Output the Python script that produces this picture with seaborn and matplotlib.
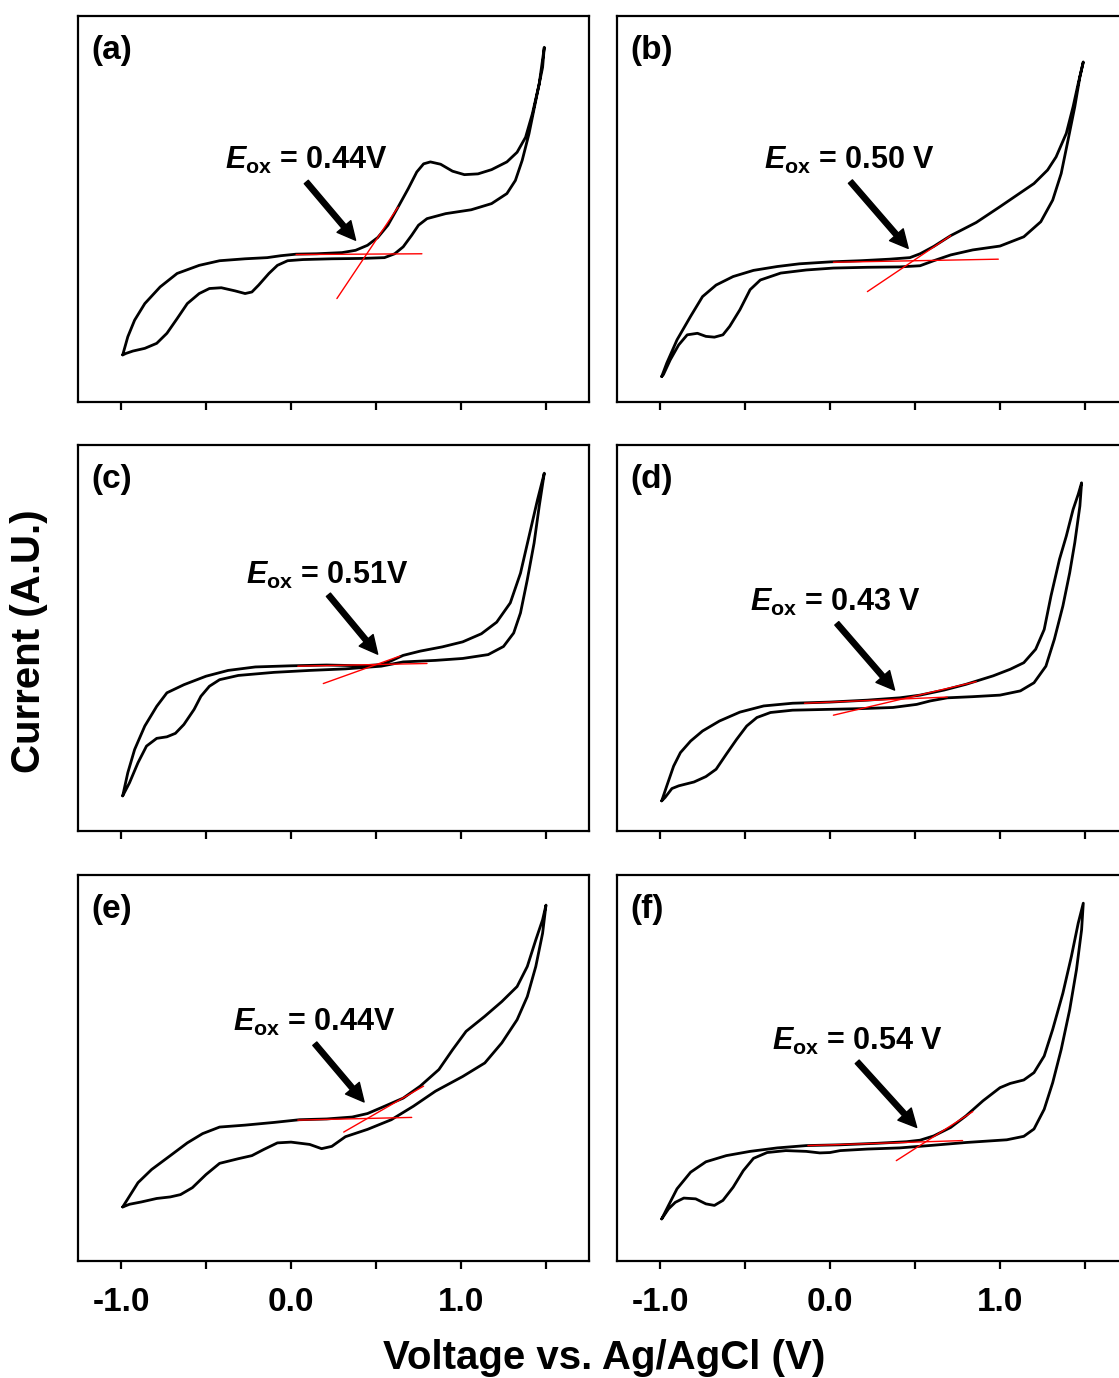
import matplotlib
matplotlib.use("Agg")
import matplotlib.pyplot as plt
from matplotlib.ticker import FixedLocator, FormatStrFormatter
import pandas as pd
import seaborn as sns

# ---------------------------------------------------------------------------
# Cyclic voltammograms (current in arbitrary units, 0-100 full scale)
# Each loop: upper branch from -1.0 V to the vertex, then lower branch back.
# ---------------------------------------------------------------------------
A_VOLT = [-0.99, -0.96, -0.92, -0.86, -0.77, -0.67, -0.54, -0.42, -0.27, -0.14,
          -0.06, 0.03, 0.15, 0.30, 0.38, 0.45, 0.51, 0.57, 0.63, 0.69,
          0.74, 0.78, 0.82, 0.88, 0.95, 1.02, 1.10, 1.18, 1.27, 1.33,
          1.38, 1.42, 1.46, 1.49,
          1.48, 1.44, 1.40, 1.36, 1.32, 1.27, 1.18, 1.06, 0.91, 0.80,
          0.75, 0.71, 0.66, 0.61, 0.55, 0.42, 0.24, 0.07, -0.02, -0.08,
          -0.13, -0.19, -0.23, -0.27, -0.33, -0.41, -0.48, -0.54, -0.61, -0.67,
          -0.73, -0.79, -0.86, -0.93, -0.97, -0.99]
A_CURR = [12.2, 16.9, 21.2, 25.5, 29.8, 33.3, 35.4, 36.6, 37.1, 37.4,
          37.9, 38.3, 38.4, 38.7, 39.3, 40.6, 42.6, 45.8, 50.5, 55.3,
          59.6, 61.7, 62.2, 61.6, 59.8, 58.9, 59.1, 60.2, 62.2, 64.7,
          68.6, 74.7, 82.4, 91.9,
          86.7, 78.1, 69.5, 62.6, 57.4, 54.0, 51.4, 49.8, 48.8, 47.5,
          45.8, 43.2, 40.2, 38.4, 37.4, 37.2, 37.1, 36.9, 36.6, 35.4,
          33.3, 30.3, 28.5, 28.1, 28.8, 29.6, 29.4, 28.1, 25.5, 21.6,
          17.8, 15.2, 13.9, 13.2, 12.6, 12.2]

B_VOLT = [-0.99, -0.96, -0.90, -0.82, -0.75, -0.67, -0.57, -0.45, -0.31, -0.18,
          0.00, 0.18, 0.35, 0.47, 0.53, 0.61, 0.71, 0.86, 1.00, 1.10,
          1.20, 1.28, 1.33, 1.39, 1.43, 1.46, 1.49,
          1.47, 1.44, 1.40, 1.36, 1.31, 1.24, 1.14, 1.00, 0.84, 0.71,
          0.61, 0.53, 0.41, 0.22, 0.02, -0.14, -0.29, -0.41, -0.47, -0.53,
          -0.59, -0.63, -0.68, -0.73, -0.78, -0.84, -0.89, -0.94, -0.98, -0.99]
B_CURR = [6.6, 10.1, 16.1, 22.2, 27.3, 30.3, 32.5, 34.1, 35.1, 35.8,
          36.3, 36.6, 37.0, 37.4, 38.4, 40.3, 43.1, 46.5, 50.6, 53.6,
          56.6, 60.1, 63.5, 69.6, 76.5, 82.5, 88.1,
          84.2, 76.5, 67.8, 59.2, 52.3, 46.7, 42.8, 40.4, 39.4, 38.1,
          36.6, 35.3, 35.0, 34.9, 34.7, 34.2, 33.4, 31.6, 29.1, 23.9,
          19.6, 17.4, 16.8, 17.0, 17.8, 17.4, 14.8, 10.9, 7.1, 6.6]

C_VOLT = [-0.99, -0.96, -0.92, -0.86, -0.79, -0.73, -0.63, -0.50, -0.37, -0.21,
          0.00, 0.21, 0.42, 0.53, 0.59, 0.66, 0.76, 0.89, 1.01, 1.12,
          1.21, 1.29, 1.35, 1.40, 1.45, 1.49,
          1.46, 1.43, 1.39, 1.35, 1.31, 1.25, 1.16, 1.01, 0.85, 0.66,
          0.53, 0.32, 0.11, -0.10, -0.31, -0.42, -0.48, -0.53, -0.57, -0.63,
          -0.68, -0.73, -0.79, -0.85, -0.90, -0.95, -0.99]
C_CURR = [9.1, 15.1, 21.1, 27.2, 32.3, 35.8, 37.9, 40.1, 41.6, 42.5,
          42.8, 43.0, 42.8, 43.1, 44.1, 45.5, 46.6, 47.7, 49.0, 51.1,
          54.1, 59.1, 66.8, 76.3, 85.8, 92.7,
          84.1, 74.6, 65.1, 56.5, 51.3, 47.8, 45.7, 44.7, 44.2, 43.8,
          42.7, 42.0, 41.6, 41.1, 40.3, 39.2, 37.5, 34.9, 31.5, 27.6,
          25.3, 24.4, 24.0, 22.0, 17.7, 12.5, 9.1]

D_VOLT = [-0.99, -0.96, -0.92, -0.88, -0.82, -0.75, -0.65, -0.53, -0.39, -0.22,
          0.00, 0.22, 0.41, 0.53, 0.67, 0.80, 0.96, 1.06, 1.14, 1.21,
          1.26, 1.30, 1.35, 1.39, 1.43, 1.46, 1.48,
          1.47, 1.44, 1.41, 1.37, 1.32, 1.27, 1.20, 1.12, 1.00, 0.84,
          0.69, 0.59, 0.51, 0.37, 0.18, -0.02, -0.22, -0.35, -0.43, -0.49,
          -0.55, -0.61, -0.67, -0.73, -0.80, -0.89, -0.93, -0.97, -0.99]
D_CURR = [7.8, 11.7, 16.8, 20.3, 23.3, 25.9, 28.5, 30.8, 32.4, 33.1,
          33.4, 33.9, 34.5, 35.2, 36.5, 38.0, 40.2, 41.9, 43.6, 47.1,
          52.2, 60.9, 70.4, 76.4, 83.3, 87.2, 90.2,
          84.2, 74.7, 66.9, 58.3, 49.7, 42.7, 38.4, 36.3, 35.2, 34.8,
          34.5, 33.7, 32.8, 32.0, 31.7, 31.5, 31.3, 30.7, 29.4, 27.2,
          23.7, 19.9, 16.0, 14.1, 12.7, 11.7, 11.0, 8.7, 7.8]

E_VOLT = [-0.99, -0.95, -0.90, -0.82, -0.71, -0.61, -0.52, -0.42, -0.27, -0.10,
          0.05, 0.21, 0.36, 0.45, 0.53, 0.66, 0.76, 0.87, 0.95, 1.03,
          1.14, 1.24, 1.33, 1.39, 1.44, 1.48, 1.50,
          1.48, 1.44, 1.39, 1.33, 1.24, 1.14, 1.01, 0.85, 0.72, 0.59,
          0.45, 0.32, 0.24, 0.18, 0.11, 0.00, -0.08, -0.16, -0.23, -0.31,
          -0.42, -0.50, -0.58, -0.65, -0.71, -0.79, -0.88, -0.95, -0.99]
E_CURR = [14.0, 16.8, 20.3, 23.7, 27.3, 30.6, 33.0, 34.7, 35.2, 35.9,
          36.6, 36.8, 37.3, 38.2, 39.7, 42.2, 45.3, 49.6, 54.7, 59.5,
          63.4, 67.2, 71.1, 76.3, 83.2, 88.4, 92.2,
          84.9, 76.3, 68.5, 62.5, 56.5, 51.3, 47.8, 44.0, 40.1, 36.6,
          34.1, 32.2, 29.7, 29.1, 30.2, 30.8, 30.6, 28.9, 27.3, 26.5,
          25.3, 22.4, 19.0, 17.2, 16.6, 16.2, 15.3, 14.7, 14.0]

F_VOLT = [-0.99, -0.95, -0.90, -0.82, -0.73, -0.61, -0.47, -0.31, -0.14, 0.06,
          0.28, 0.45, 0.53, 0.61, 0.71, 0.80, 0.90, 1.00, 1.06, 1.14,
          1.20, 1.26, 1.31, 1.37, 1.42, 1.46, 1.49,
          1.48, 1.45, 1.41, 1.36, 1.31, 1.26, 1.20, 1.14, 1.04, 0.80,
          0.61, 0.41, 0.22, 0.06, 0.00, -0.06, -0.14, -0.26, -0.37, -0.45,
          -0.51, -0.57, -0.63, -0.68, -0.73, -0.79, -0.86, -0.91, -0.95, -0.99]
F_CURR = [10.9, 14.4, 18.7, 23.0, 25.7, 27.3, 28.4, 29.3, 29.9, 30.1,
          30.5, 30.9, 31.3, 32.4, 34.6, 37.6, 41.5, 44.9, 46.0, 46.9,
          48.8, 53.1, 60.0, 69.4, 78.9, 87.5, 92.7,
          85.8, 75.5, 65.1, 54.8, 46.2, 39.3, 34.2, 32.3, 31.4, 30.7,
          30.0, 29.3, 29.0, 28.6, 28.1, 28.0, 28.4, 28.6, 28.1, 26.6,
          23.4, 19.1, 15.7, 14.4, 14.8, 16.1, 16.3, 15.2, 13.5, 10.9]

# Onset construction lines: (voltages, currents) of baseline and tangent
A_BASE = ([0.03, 0.77], [38.2, 38.4]);   A_TAN = ([0.27, 0.63], [26.8, 50.5])
B_BASE = ([0.02, 0.99], [36.2, 37.0]);   B_TAN = ([0.22, 0.71], [28.6, 43.1])
C_BASE = ([0.04, 0.80], [42.7, 43.4]);   C_TAN = ([0.19, 0.64], [38.2, 45.3])
D_BASE = ([-0.15, 0.69], [33.1, 34.7]);  D_TAN = ([0.02, 0.86], [30.0, 38.7])
E_BASE = ([0.04, 0.71], [36.5, 37.2]);   E_TAN = ([0.31, 0.78], [33.4, 45.3])
F_BASE = ([-0.13, 0.78], [29.9, 31.2]);  F_TAN = ([0.39, 0.84], [26.0, 38.7])

PANEL_LABELS = ["(a)", "(b)", "(c)", "(d)", "(e)", "(f)"]
EOX_TEXT = ["0.44V", "0.50 V", "0.51V", "0.43 V", "0.44V", "0.54 V"]
TICK_VALUES = [-1.0, 0.0, 1.0]
MINOR_TICKS = [-0.5, 0.5, 1.5]

# Annotation placement (data coordinates): text anchor, arrow tail, arrow tip
TEXT_POS = [(-0.39, 60.4), (-0.39, 60.5), (-0.265, 64.1),
            (-0.47, 57.0), (-0.34, 59.5), (-0.34, 54.8)]
ARROW_FROM = [(0.09, 57.0), (0.12, 57.1), (0.22, 61.2),
              (0.04, 53.8), (0.14, 56.3), (0.16, 51.6)]
ARROW_TO = [(0.38, 41.9), (0.46, 39.8), (0.51, 45.8),
            (0.38, 36.5), (0.43, 41.2), (0.51, 34.6)]

# ---------------------------------------------------------------------------
sns.set_theme(style="ticks")
plt.rcParams["font.family"] = ["Liberation Sans", "DejaVu Sans"]
plt.rcParams["font.weight"] = "bold"
plt.rcParams["mathtext.fontset"] = "custom"
plt.rcParams["mathtext.it"] = "Liberation Sans:italic:bold"
plt.rcParams["mathtext.rm"] = "Liberation Sans:bold"
plt.rcParams["mathtext.bf"] = "Liberation Sans:bold"
for key in ("text.color", "axes.labelcolor", "axes.edgecolor",
            "xtick.color", "xtick.labelcolor"):
    plt.rcParams[key] = "black"

W, H = 1119, 1378
fig = plt.figure(figsize=(W / 100, H / 100), dpi=100)
fig.patch.set_facecolor("white")

col_left = [78 / W, 617 / W]
row_bottom = [1 - 402 / H, 1 - 831 / H, 1 - 1261 / H]
ax_w, ax_h = 511 / W, 386 / H

loops = [(A_VOLT, A_CURR), (B_VOLT, B_CURR), (C_VOLT, C_CURR),
         (D_VOLT, D_CURR), (E_VOLT, E_CURR), (F_VOLT, F_CURR)]
bases = [A_BASE, B_BASE, C_BASE, D_BASE, E_BASE, F_BASE]
tangents = [A_TAN, B_TAN, C_TAN, D_TAN, E_TAN, F_TAN]

for k in range(6):
    row, col = divmod(k, 2)
    ax = fig.add_axes([col_left[col], row_bottom[row], ax_w, ax_h])
    volt, curr = loops[k]
    loop = pd.DataFrame({"Voltage": volt, "Current": curr})
    sns.lineplot(data=loop, x="Voltage", y="Current", sort=False,
                 estimator=None, color="black", linewidth=2.0,
                 solid_joinstyle="round", solid_capstyle="round", ax=ax)
    for seg in (bases[k], tangents[k]):
        ax.plot(seg[0], seg[1], color="red", linewidth=1.0, zorder=4)

    ax.text(TEXT_POS[k][0], TEXT_POS[k][1],
            r"$E_{\mathrm{ox}}$ = " + EOX_TEXT[k], color="black",
            fontsize=22, fontweight="bold", ha="left", va="baseline")
    ax.annotate("", xy=ARROW_TO[k], xytext=ARROW_FROM[k],
                arrowprops=dict(facecolor="black", edgecolor="black",
                                width=3.8, headwidth=13, headlength=13,
                                shrink=0))
    ax.text(0.027, 0.951, PANEL_LABELS[k], transform=ax.transAxes,
            color="black", fontsize=24, fontweight="bold",
            ha="left", va="top")

    ax.set_xlim(-1.253, 1.753)
    ax.set_ylim(0, 100)
    ax.set_xlabel("")
    ax.set_ylabel("")
    ax.xaxis.set_major_locator(FixedLocator(TICK_VALUES))
    ax.xaxis.set_minor_locator(FixedLocator(MINOR_TICKS))
    ax.xaxis.set_major_formatter(FormatStrFormatter("%.1f"))
    ax.tick_params(axis="x", which="both", direction="out", length=5.5,
                   width=1.6, bottom=True, top=False, pad=13,
                   labelsize=24, labelcolor="black", labelbottom=(row == 2))
    for lab in ax.get_xticklabels():
        lab.set_fontweight("bold")
    ax.tick_params(axis="y", left=False, right=False, labelleft=False)
    for spine in ax.spines.values():
        spine.set_visible(True)
        spine.set_color("black")
        spine.set_linewidth(1.6)

fig.text(29 / W, 1 - 641 / H, "Current (A.U.)", rotation=90, color="black",
         fontsize=29, fontweight="bold", ha="center", va="center")
fig.text(604 / W, 1 - 1369 / H, "Voltage vs. Ag/AgCl (V)", color="black",
         fontsize=29, fontweight="bold", ha="center", va="baseline")

fig.savefig("out.png", dpi=100, facecolor="white")
